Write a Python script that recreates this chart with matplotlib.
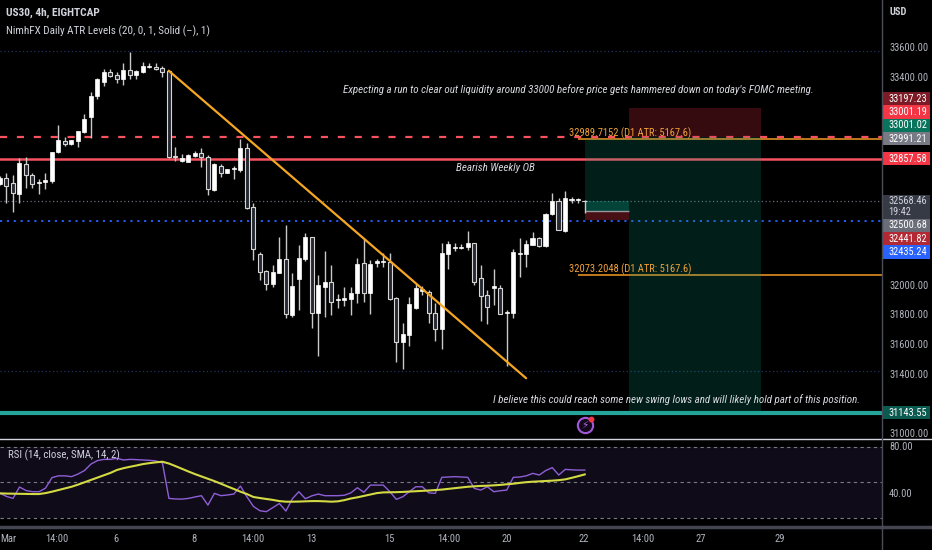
import numpy as np
import matplotlib
matplotlib.use("Agg")
import matplotlib.pyplot as plt
import matplotlib.font_manager as fm
import matplotlib.transforms as mtransforms
from matplotlib.lines import Line2D
from matplotlib.patches import Rectangle

# ---------------- data ----------------
opens = [32686, 32728, 32695, 32618, 32821, 32747, 32690, 32697, 32708, 32899,
         32976, 32953, 32978, 33036, 33135, 33279, 33376, 33441, 33421, 33396,
         33455, 33423, 33439, 33473, 33473, 33468, 33450, 32875, 32841, 32836,
         32877, 32892, 32870, 32645, 32809, 32762, 32785, 32780, 32926, 32528,
         32211, 32099, 32009, 32088, 32180, 31803, 32043, 32180, 32326, 31814,
         31994, 32025, 31904, 31904, 31910, 31949, 32151, 31949, 32155, 32160,
         32162, 31915, 31618, 31668, 31852, 31964, 31960, 31818, 31706, 32216,
         32252, 32255, 32259, 32286, 32054, 31937, 31982, 31982, 31814, 31818,
         32212, 32212, 32274, 32319, 32268, 32481, 32571, 32371, 32576, 32576,
         32571]
closes = [32724, 32675, 32623, 32830, 32747, 32684, 32699, 32713, 32904, 32982,
          32953, 32982, 33045, 33124, 33279, 33394, 33441, 33414, 33396, 33455,
          33421, 33450, 33482, 33482, 33464, 33443, 32866, 32866, 32859, 32881,
          32892, 32870, 32650, 32821, 32762, 32787, 32789, 32926, 32526, 32245,
          32095, 32009, 32090, 32180, 31807, 31998, 32185, 32326, 31814, 32003,
          32025, 31892, 31913, 31915, 31951, 32146, 31949, 32146, 32164, 32167,
          31910, 31618, 31672, 31877, 31982, 31976, 31814, 31706, 32218, 32281,
          32259, 32263, 32286, 32027, 31933, 31854, 31998, 31807, 31825, 32225,
          32218, 32281, 32319, 32268, 32484, 32571, 32376, 32589, 32582, 32580,
          32568]
highs = [32740, 32758, 32747, 32859, 32866, 32762, 32717, 32762, 32904, 33081,
         33000, 32985, 33045, 33158, 33308, 33403, 33461, 33459, 33443, 33500,
         33578, 33455, 33506, 33500, 33504, 33482, 33455, 32933, 32888, 32885,
         32908, 32926, 32881, 32830, 32821, 32790, 32807, 32987, 32960, 32555,
         32229, 32106, 32140, 32331, 32409, 32083, 32274, 32358, 32331, 32070,
         32236, 32140, 31944, 31989, 31994, 32189, 32315, 32173, 32178, 32223,
         32218, 31926, 31751, 31926, 32012, 31998, 31971, 31881, 32286, 32301,
         32290, 32279, 32369, 32286, 32140, 31971, 32110, 32005, 31836, 32245,
         32319, 32308, 32360, 32331, 32490, 32627, 32589, 32639, 32600, 32589,
         32575]
lows = [32680, 32555, 32499, 32555, 32657, 32657, 32616, 32652, 32695, 32893,
        32942, 32950, 32933, 33032, 32994, 33259, 33349, 33405, 33369, 33351,
        33392, 33392, 33432, 33468, 33455, 33410, 32859, 32843, 32836, 32834,
        32866, 32798, 32612, 32640, 32735, 32760, 32722, 32769, 32515, 32173,
        32038, 31971, 31989, 32083, 31780, 31791, 31836, 32169, 31713, 31528,
        31791, 31802, 31847, 31863, 31802, 31881, 31892, 31809, 32128, 32128,
        31904, 31488, 31436, 31596, 31841, 31937, 31751, 31627, 31571, 32113,
        32236, 32245, 32241, 32005, 31764, 31742, 31870, 31807, 31459, 31785,
        32061, 32124, 32274, 32263, 32263, 32477, 32376, 32364, 32555, 32560,
        32490]

rsi_values = [40.6, 38.0, 36.3, 46.0, 43.0, 42.0, 42.0, 45.0, 54.0, 55.5,
              55.5, 54.8, 57.0, 60.0, 65.5, 68.5, 69.5, 69.5, 70.4, 69.0,
              69.5, 69.3, 69.0, 68.7, 68.2, 66.5, 36.3, 35.8, 35.7, 36.3,
              37.5, 38.6, 30.6, 40.6, 38.6, 39.2, 40.0, 46.8, 37.7, 29.5,
              25.8, 25.0, 28.5, 32.0, 25.5, 36.0, 42.0, 36.0, 38.5, 40.0,
              38.6, 38.6, 38.6, 39.0, 41.0, 45.4, 41.5, 47.6, 47.6, 47.6,
              42.0, 35.5, 37.7, 42.0, 46.2, 46.2, 41.0, 40.6, 54.2, 54.5,
              54.8, 54.5, 54.2, 44.8, 43.4, 46.2, 42.0, 42.8, 43.4, 54.2,
              54.5, 55.5, 57.6, 56.2, 60.0, 62.5, 56.2, 61.0, 60.6, 60.4,
              60.4]
rsi_ma_values = [40.6, 40.4, 40.3, 40.2, 40.1, 40.0, 40.0, 40.8, 42.0, 43.4,
                 44.8, 46.2, 48.0, 50.0, 52.0, 54.0, 56.0, 58.0, 60.5, 62.0,
                 63.2, 64.3, 65.5, 66.3, 67.0, 67.5, 66.0, 63.8, 61.5, 59.2,
                 57.0, 55.0, 53.0, 51.0, 48.8, 46.5, 44.3, 42.0, 40.0, 37.5,
                 36.6, 35.8, 35.0, 34.0, 33.5, 33.5, 33.6, 33.8, 34.0, 34.0,
                 33.8, 33.5, 33.8, 34.8, 36.2, 37.2, 38.4, 39.6, 40.8, 41.4,
                 41.5, 41.6, 41.8, 42.1, 42.4, 42.7, 43.0, 43.4, 43.8, 44.4,
                 45.0, 45.6, 46.2, 46.6, 46.9, 47.1, 47.4, 47.8, 48.3, 48.8,
                 49.5, 50.1, 50.5, 50.8, 51.1, 51.4, 51.8, 52.5, 53.8, 55.2,
                 56.7]

time_tick_pos = [0, 8.8, 17.8, 29.8, 38.9, 48, 60, 69.1, 78, 89.8, 98.9, 107.8, 120]
time_tick_labels = ['Mar', '14:00', '6', '8', '14:00', '13', '15', '14:00', '20', '22', '14:00', '27', '29']
price_ticks = [31000, 31200, 31400, 31600, 31800, 32000, 32200, 32400, 32600, 32800,
               33000, 33200, 33400, 33600]
rsi_ticks = [40, 80]
rsi_bands = [80, 50, 20]

weekly_ob_level = 32857.58
liquidity_level = 33001.19
atr_levels = [32989.7152, 32073.2048]
atr_d1 = 5167.6
current_price = 32568.46
blue_level = 32435.24
range_levels = [33583.0, 31428.0]
trend_bars = [26, 81]
trend_prices = [33450.0, 31376.0]
long_entry, long_target, long_stop = 32500.68, 32991.21, 32441.82
short_entry, short_stop, short_target = 33001.02, 33197.23, 31143.55
long_bars = [90, 96.9]
short_bars = [96.9, 117.2]
countdown = "19:42"

label_values = [33197.23, 33001.19, 33001.02, 32991.21, 32857.58,
                32568.46, 32500.68, 32441.82, 32435.24, 31143.55]
label_bg = ['#7c1b25', '#f23645', '#08745c', '#787b86', '#f23645',
            '#363a45', '#6a6d78', '#b22833', '#2962ff', '#0b5a4f']

# ---------------- fonts ----------------
avail = {f.name for f in fm.fontManager.ttflist}
NARROW = next((f for f in ['Liberation Sans Narrow', 'DejaVu Sans Condensed',
                           'Roboto Condensed', 'Open Sans Condensed'] if f in avail),
              'Liberation Sans')
SC = 1.0 if NARROW != 'Liberation Sans' else 0.86
FAM = [NARROW, 'DejaVu Sans']

W, H = 932, 550
fig = plt.figure(figsize=(W / 100, H / 100), dpi=100, facecolor='black')


def fx(px):
    return px / W


def fy(py):
    return 1 - py / H


TXT = '#d1d4dc'
AX_TXT = '#b2b5be'

# ---------------- main price pane ----------------
ax = fig.add_axes([0, fy(438), fx(882), 438 / H])
ax.set_facecolor('black')
for s in ax.spines.values():
    s.set_visible(False)
ax.set_xticks([])
ax.set_yticks([])
XMIN, XMAX = 0.05, 135.75
ax.set_xlim(XMIN, XMAX)
ax.set_ylim(30973, 33926.5)

o = np.array(opens, float)
c = np.array(closes, float)
hi = np.array(highs, float)
lo = np.array(lows, float)
x = np.arange(len(o))
up = c >= o
body_lo = np.minimum(o, c)
body_h = np.maximum(np.abs(c - o), 6.0)

# level lines
for lv in range_levels:
    ax.axhline(lv, color='#27325e', lw=0.9, ls=(0, (1, 2)), zorder=1)
ax.axhline(current_price, color='#6a6d78', lw=0.9, ls=(0, (1, 2)), zorder=1)
ax.axhline(blue_level, color='#2962ff', lw=1.3, ls=(0, (1.2, 2.6)), zorder=1)
for lv in atr_levels:
    ax.hlines(lv, 89, XMAX, color='#f59b23', lw=1.1, zorder=1.6)
    ax.text(87.6, lv, f"{lv:.4f} (D1 ATR: {atr_d1:.1f})", color='#f0a23a',
            fontsize=7.6 * SC, family=FAM, va='bottom', ha='left', zorder=7)
ax.axhline(liquidity_level, color='#f7525f', lw=1.6, ls=(0, (3.2, 4.4)), zorder=2)
ax.axhline(weekly_ob_level, color='#f7525f', lw=1.8, zorder=2)
ax.axhline(short_target, color='#26a69a', lw=3.0, zorder=2)

# position tools
GREEN = (8 / 255, 153 / 255, 129 / 255)
RED = (242 / 255, 54 / 255, 69 / 255)
ax.add_patch(Rectangle((long_bars[0], long_entry), long_bars[1] - long_bars[0],
                       long_target - long_entry, fc=GREEN, alpha=0.2, lw=0, zorder=2.5))
ax.add_patch(Rectangle((long_bars[0], long_entry), long_bars[1] - long_bars[0],
                       current_price - long_entry, fc=GREEN, alpha=0.3, lw=0, zorder=2.5))
ax.add_patch(Rectangle((long_bars[0], long_stop), long_bars[1] - long_bars[0],
                       long_entry - long_stop, fc=RED, alpha=0.3, lw=0, zorder=2.5))
ax.hlines(long_entry, long_bars[0], long_bars[1], color='#9598a1', lw=1, zorder=2.6)
ax.add_patch(Rectangle((short_bars[0], short_entry), short_bars[1] - short_bars[0],
                       short_stop - short_entry, fc=RED, alpha=0.22, lw=0, zorder=2.5))
ax.add_patch(Rectangle((short_bars[0], short_target), short_bars[1] - short_bars[0],
                       short_entry - short_target, fc=GREEN, alpha=0.2, lw=0, zorder=2.5))

# candles
ax.vlines(x, lo, hi, color='#c8c8c8', lw=1.0, zorder=3)
ax.bar(x[up], body_h[up], bottom=body_lo[up], width=0.66, color='#ffffff',
       edgecolor='#ffffff', lw=0.5, zorder=4)
ax.bar(x[~up], body_h[~up], bottom=body_lo[~up], width=0.66, color='#262833',
       edgecolor='#d6d6d6', lw=0.8, zorder=4)

# trend line
ax.plot(trend_bars, trend_prices, color='#f5a623', lw=1.6, zorder=5,
        solid_capstyle='round')

# event icon
bt = mtransforms.blended_transform_factory(ax.transData, ax.transAxes)
ax.plot([x[-1]], [1 - 425 / 438], transform=bt, marker='o', ms=11, mfc='#14081c',
        mec='#a259d9', mew=1.5, zorder=8, clip_on=False)
ax.text(x[-1], 1 - 425 / 438, '\u26a1', transform=bt, color='#b06ae6', fontsize=7.5,
        ha='center', va='center', family=['DejaVu Sans'], zorder=9)
ax.plot([x[-1] + 0.95], [1 - 419 / 438], transform=bt, marker='o', ms=3.2,
        mfc='#f23645', mec='#f23645', zorder=9)

# notes
NOTE = dict(color='#d8dae0', style='italic', family=FAM, ha='center', va='center', zorder=10)
fig.text(fx(578), fy(90), "Expecting a run to clear out liquidity around 33000 before price "
         "gets hammered down on today's FOMC meeting.", fontsize=7.9 * SC, **NOTE)
fig.text(fx(495), fy(168), "Bearish Weekly OB", fontsize=7.9 * SC, **NOTE)
fig.text(fx(677), fy(400), "I believe this could reach some new swing lows and will likely "
         "hold part of this position.", fontsize=7.9 * SC, **NOTE)

# header
fig.text(fx(6), fy(13), "US30, 4h, EIGHTCAP", color=TXT, fontsize=8.2 * SC, family=FAM,
         weight='bold', va='center', ha='left')
fig.text(fx(6), fy(31), "NimhFX Daily ATR Levels (20, 0, 1, Solid (\u2013), 1)", color=TXT,
         fontsize=8.0 * SC, family=FAM, va='center', ha='left')
fig.text(fx(890), fy(12), "USD", color=TXT, fontsize=7.5 * SC, family=FAM,
         va='center', ha='left', weight='bold')

# ---------------- RSI pane ----------------
rax = fig.add_axes([0, fy(526), fx(882), (526 - 440) / H])
rax.set_facecolor('black')
for s in rax.spines.values():
    s.set_visible(False)
rax.set_xlim(XMIN, XMAX)
rax.set_ylim(12.8, 86.0)
rax.set_yticks([])
rax.fill_between([XMIN, XMAX], rsi_bands[-1], rsi_bands[0], color='#7e57c2',
                 alpha=0.13, lw=0)
for b in rsi_bands:
    rax.axhline(b, color='#787b86', lw=0.8, ls=(0, (3, 3)))
rax.plot(x, rsi_values, color='#8e5fd6', lw=1.0)
rax.plot(x, rsi_ma_values, color='#d3da44', lw=1.5)
rax.set_xticks(time_tick_pos)
rax.set_xticklabels(time_tick_labels, family=FAM)
rax.tick_params(axis='x', length=0, pad=6, labelsize=7.6 * SC, labelcolor=AX_TXT)
# first (month) label sits on the left edge: keep it inside the picture
rax.get_xticklabels()[0].set_horizontalalignment('left')
fig.text(fx(8), fy(455), "RSI (14, close, SMA, 14, 2)", color=TXT, fontsize=7.8 * SC,
         family=FAM, va='center', ha='left')

# ---------------- right scales ----------------
def ytd(axis, val):
    return H - axis.transData.transform((0, val))[1]


LH = 13.4
CUR_H = 24.0
cur_y = ytd(ax, current_price)
cur_top = cur_y - LH / 2
cur_bot = cur_top + CUR_H
ypos = {}
prev = cur_top + LH / 2
for v in sorted([v for v in label_values if v > current_price]):
    yy = min(ytd(ax, v), prev - LH)
    ypos[v] = yy
    prev = yy
prev = cur_bot - LH / 2
for v in sorted([v for v in label_values if v < current_price], reverse=True):
    yy = max(ytd(ax, v), prev + LH)
    ypos[v] = yy
    prev = yy

# occupied spans of the coloured labels (top, bottom)
spans = [(cur_top, cur_bot)] + [(yy - LH / 2, yy + LH / 2) for yy in ypos.values()]

for t in price_ticks:
    yy = ytd(ax, t)
    hidden = any(a - 2 < yy < b + 2 for a, b in spans)
    if 4 < yy < 436 and not hidden:
        fig.text(fx(889), fy(yy), f"{t:.2f}", color=AX_TXT, fontsize=7.5 * SC,
                 family=FAM, va='center', ha='left', zorder=2)
for t in rsi_ticks:
    fig.text(fx(889), fy(ytd(rax, t)), f"{t:.2f}", color=AX_TXT, fontsize=7.5 * SC,
             family=FAM, va='center', ha='left', zorder=2)


def box(top, height, colr):
    fig.add_artist(Rectangle((fx(883), fy(top + height)), fx(47), height / H,
                             transform=fig.transFigure, fc=colr, ec='none', zorder=3))


for v, bg in zip(label_values, label_bg):
    if v == current_price:
        box(cur_top, CUR_H, bg)
        fig.text(fx(888), fy(cur_y), f"{v:.2f}", color=TXT, fontsize=7.5 * SC,
                 family=FAM, va='center', ha='left', zorder=4)
        fig.text(fx(888), fy(cur_y + 11), countdown, color=TXT, fontsize=7.5 * SC,
                 family=FAM, va='center', ha='left', zorder=4)
    else:
        yy = ypos[v]
        box(yy - LH / 2, LH, bg)
        fig.text(fx(888), fy(yy), f"{v:.2f}", color='#ffffff', fontsize=7.5 * SC,
                 family=FAM, va='center', ha='left', zorder=4)

# separators
fig.add_artist(Line2D([0, 1], [fy(438.5)] * 2, transform=fig.transFigure,
                      color='#d1d4dc', lw=1.0, zorder=5))
fig.add_artist(Line2D([0, 1], [fy(526.5)] * 2, transform=fig.transFigure,
                      color='#434651', lw=2.5, zorder=5))
fig.add_artist(Line2D([fx(882)] * 2, [0, 1], transform=fig.transFigure,
                      color='#4a4d57', lw=1.0, zorder=5))

fig.savefig('out.png', dpi=100, facecolor='black')
